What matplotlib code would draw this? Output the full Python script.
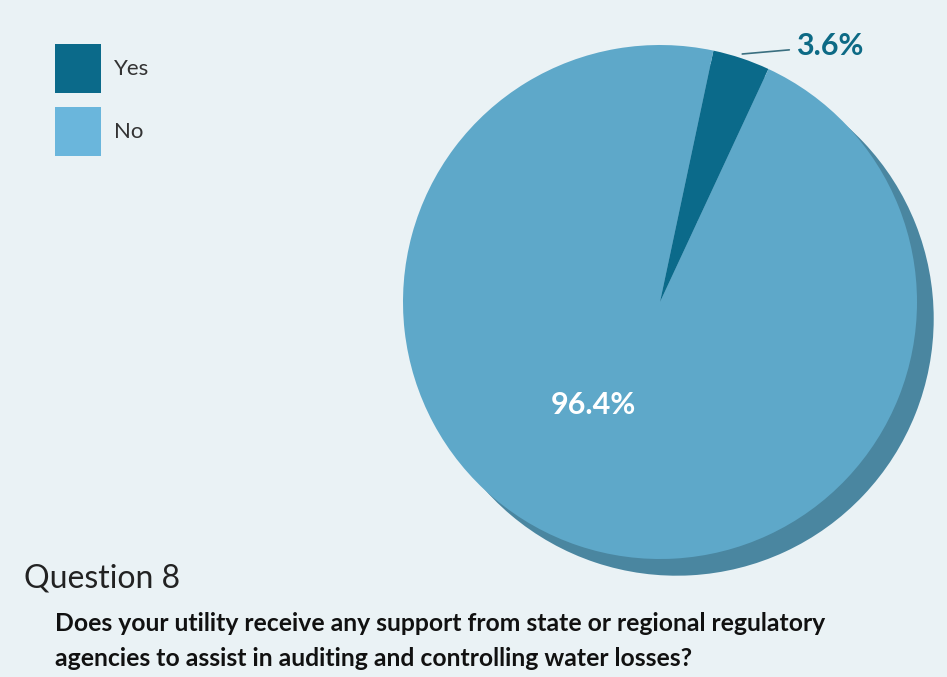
import matplotlib.pyplot as plt
from matplotlib.patches import Rectangle

labels = ["Yes", "No"]
shares = [3.6, 96.4]
colors = ["#0b6a8a", "#5ea8c9"]
legend_colors = ["#0b6a8a", "#6ab6dc"]
shadow_color = "#4a86a0"
bg = "#eaf2f5"

title = "Question 8"
question = ("Does your utility receive any support from state or regional regulatory\n"
            "agencies to assist in auditing and controlling water losses?")

W, H = 947, 677
fig = plt.figure(figsize=(W / 100, H / 100), dpi=100, facecolor=bg)

# pie axes placed in pixels: centre (660, 302), radius 257 px, limits +-1.1
r_px = 257
lim = 1.1
half = r_px * lim
cx, cy = 660, 302
ax = fig.add_axes([(cx - half) / W, (H - cy - half) / H, 2 * half / W, 2 * half / H])

# drop shadow, then the pie itself
ax.pie(shares, colors=[shadow_color] * 2, startangle=78, counterclock=False,
       center=(0.065, -0.065), radius=1.0, frame=True,
       wedgeprops=dict(linewidth=0))
wedges, _ = ax.pie(shares, colors=colors, startangle=78, counterclock=False,
                   radius=1.0, frame=True, wedgeprops=dict(linewidth=0))
ax.set_xlim(-lim, lim)
ax.set_ylim(-lim, lim)
ax.axis("off")

ax.text(-0.26, -0.4, f"{shares[1]:.1f}%", color="white", fontsize=22,
        fontweight="bold", ha="center", va="center", family="Lato")
ax.annotate(f"{shares[0]:.1f}%", xy=(0.32, 0.965), xytext=(0.53, 0.995),
            color="#0d6a85", fontsize=22, fontweight="bold", family="Lato",
            ha="left", va="center",
            arrowprops=dict(arrowstyle="-", color="#3a6f80", lw=1.2,
                            shrinkA=3, shrinkB=0))

# legend: square swatches with labels, positioned in pixels
for i, (lab, c) in enumerate(zip(labels, legend_colors)):
    top = 44 + i * 63
    fig.patches.append(Rectangle((55 / W, 1 - (top + 49) / H), 46 / W, 49 / H,
                                 transform=fig.transFigure, facecolor=c,
                                 edgecolor="none"))
    fig.text(114 / W, 1 - (top + 25) / H, lab, fontsize=16, family="Lato",
             color="#333333", va="center", ha="left")

fig.text(24 / W, 1 - 578 / H, title, fontsize=23, family="Lato",
         color="#222222", va="center", ha="left")
fig.text(55 / W, 1 - 641 / H, question, fontsize=17.8, family="Lato",
         fontweight="bold", color="#111111", va="center", ha="left", linespacing=1.65)

fig.savefig("out.png", dpi=100, facecolor=bg)
